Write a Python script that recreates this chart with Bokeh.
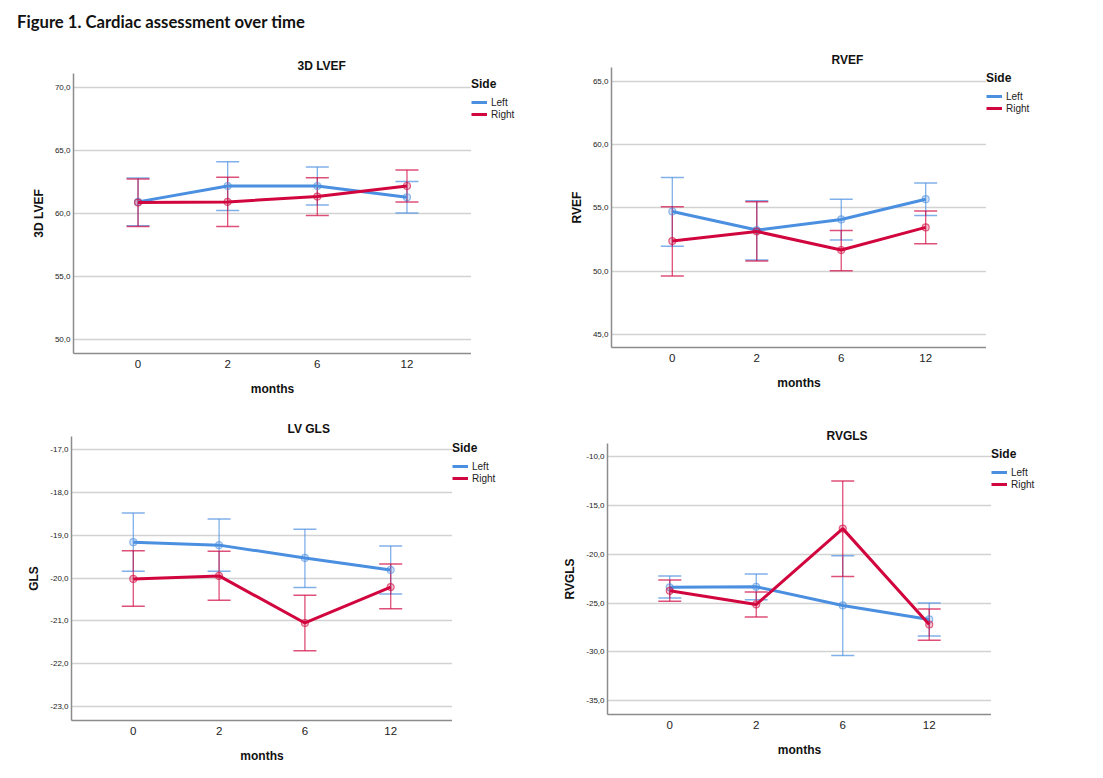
from bokeh.plotting import figure
from bokeh.models import (ColumnDataSource, Whisker, TeeHead, Legend, LegendItem, FactorRange,
                          Range1d, FixedTicker, CustomJSTickFormatter, Div)
from bokeh.layouts import column, row
from bokeh.embed import file_html
from bokeh.resources import INLINE

# ---------------- data ----------------
months = ["0", "2", "6", "12"]
sides = ["Left", "Right"]

# 3D LVEF
lvef_left_mean = [60.92, 62.18, 62.18, 61.29]
lvef_left_lo = [59.03, 60.24, 60.68, 60.03]
lvef_left_hi = [62.82, 64.10, 63.68, 62.53]
lvef_right_mean = [60.87, 60.92, 61.34, 62.18]
lvef_right_lo = [58.97, 58.97, 59.84, 60.92]
lvef_right_hi = [62.74, 62.87, 62.84, 63.45]

# RVEF
rvef_left_mean = [54.71, 53.24, 54.08, 55.68]
rvef_left_lo = [51.95, 50.87, 52.45, 54.39]
rvef_left_hi = [57.39, 55.55, 55.68, 56.97]
rvef_right_mean = [52.37, 53.13, 51.66, 53.45]
rvef_right_lo = [49.60, 50.79, 50.03, 52.16]
rvef_right_hi = [55.08, 55.47, 53.21, 54.74]

# LV GLS
gls_left_mean = [-19.16, -19.23, -19.53, -19.81]
gls_left_lo = [-19.84, -19.84, -20.22, -20.37]
gls_left_hi = [-18.48, -18.62, -18.86, -19.25]
gls_right_mean = [-20.02, -19.95, -21.05, -20.21]
gls_right_lo = [-20.66, -20.52, -21.70, -20.72]
gls_right_hi = [-19.36, -19.37, -20.40, -19.67]

# RVGLS
rvgls_left_mean = [-23.39, -23.33, -25.24, -26.67]
rvgls_left_lo = [-24.49, -24.66, -30.36, -28.38]
rvgls_left_hi = [-22.23, -22.03, -20.15, -25.00]
rvgls_right_mean = [-23.74, -25.14, -17.38, -27.19]
rvgls_right_lo = [-24.80, -26.43, -22.27, -28.79]
rvgls_right_hi = [-22.64, -23.87, -12.50, -25.61]

# axis ticks
lvef_ticks = [50, 55, 60, 65, 70]
rvef_ticks = [45, 50, 55, 60, 65]
gls_ticks = [-23, -22, -21, -20, -19, -18, -17]
rvgls_ticks = [-35, -30, -25, -20, -15, -10]

fig_title = "Figure 1. Cardiac assessment over time"

# ---------------- style ----------------
BLUE = "#4A8FE0"
RED = "#D2063E"
FONT = "Liberation Sans"
COLORS = [BLUE, RED]


def panel(title, ylabel, ylim, yticks, left, right, geom):
    bl, fw, bt, fh, bb, toff = geom
    p = figure(x_range=FactorRange(factors=months, range_padding=0.11),
               y_range=Range1d(*ylim), frame_width=fw, frame_height=fh,
               min_border_left=bl, min_border_right=0, min_border_top=bt, min_border_bottom=bb,
               output_backend="svg", toolbar_location=None, title=title)
    p.title.align = "left"
    p.title.offset = toff
    p.title.text_font = FONT
    p.title.text_font_size = "12px"
    p.title.text_font_style = "bold"
    p.title.text_color = "#111111"
    p.title.standoff = 2
    p.outline_line_color = None
    p.background_fill_color = "white"
    p.border_fill_color = "white"

    p.yaxis.ticker = FixedTicker(ticks=yticks)
    p.yaxis.formatter = CustomJSTickFormatter(code="return tick.toFixed(1).replace('.', ',');")
    for ax in (p.xaxis[0], p.yaxis[0]):
        ax.major_tick_in = 0
        ax.major_tick_out = 0
        ax.minor_tick_in = 0
        ax.minor_tick_out = 0
        ax.axis_line_color = "#8C8C8C"
        ax.axis_line_width = 1.5
        ax.major_label_text_font = FONT
        ax.major_label_text_color = "#222222"
        ax.axis_label_text_font = FONT
        ax.axis_label_text_font_size = "12px"
        ax.axis_label_text_font_style = "bold"
        ax.axis_label_text_color = "#111111"
    p.yaxis.major_label_text_font_size = "8px"
    p.xaxis.major_label_text_font_size = "11.5px"
    p.yaxis.major_label_standoff = 3
    p.xaxis.major_label_standoff = 6
    p.yaxis.axis_label_standoff = 6
    p.xaxis.axis_label_standoff = 11
    p.yaxis.axis_label = ylabel
    p.xaxis.axis_label = "months"
    p.xgrid.grid_line_color = None
    p.ygrid.grid_line_color = "#D2D2D2"
    p.ygrid.grid_line_width = 1.5

    for (mean, lo, hi), color in zip((left, right), COLORS):
        src = ColumnDataSource(dict(x=months, y=mean, lo=lo, hi=hi))
        w = Whisker(base="x", upper="hi", lower="lo", source=src,
                    line_color=color, line_alpha=0.7, line_width=1.3,
                    upper_head=TeeHead(size=23, line_color=color, line_alpha=0.7, line_width=1.5),
                    lower_head=TeeHead(size=23, line_color=color, line_alpha=0.7, line_width=1.5))
        p.add_layout(w)
        p.line("x", "y", source=src, line_color=color, line_width=3)
        p.scatter("x", "y", source=src, marker="circle", size=7, line_color=color,
                  line_alpha=0.6, fill_color=color, fill_alpha=0.25, line_width=1.2)
    return column(p, spacing=0)


def legend_box(width, height, top):
    lf = figure(width=width, height=height, title=None, min_border_left=0, min_border_right=0,
                min_border_top=top, min_border_bottom=0, x_axis_location=None,
                y_axis_location=None, x_range=Range1d(0, 1), y_range=Range1d(0, 1),
                output_backend="svg", toolbar_location=None)
    lf.grid.visible = False
    lf.outline_line_color = None
    lf.border_fill_color = "white"
    # legend-only renderers (no visible data)
    rs = [lf.line(x=[float("nan")], y=[float("nan")], line_color=c, line_width=3) for c in COLORS]
    legend = Legend(items=[LegendItem(label=s, renderers=[r]) for s, r in zip(sides, rs)],
                    title="Side", location="top_left")
    legend.title_text_font = FONT
    legend.title_text_font_size = "12px"
    legend.title_text_font_style = "bold"
    legend.title_text_color = "#111111"
    legend.title_standoff = 5
    legend.label_text_font = FONT
    legend.label_text_font_size = "10px"
    legend.label_text_color = "#222222"
    legend.label_height = 12
    legend.glyph_height = 12
    legend.glyph_width = 16
    legend.label_standoff = 4
    legend.spacing = 0
    legend.padding = 2
    legend.margin = 0
    legend.border_line_color = None
    legend.background_fill_alpha = 0
    lf.add_layout(legend)
    return column(lf, spacing=0)


# geometry: (border_left, frame_w, border_top, frame_h, border_bottom, title_offset)
p1 = panel("3D LVEF", "3D LVEF", (48.9, 71.1), lvef_ticks,
           (lvef_left_mean, lvef_left_lo, lvef_left_hi),
           (lvef_right_mean, lvef_right_lo, lvef_right_hi),
           (73, 398, 41, 280, 50, 224))
l1 = legend_box(72, 360, 45)
p2 = panel("RVEF", "RVEF", (43.95, 66.1), rvef_ticks,
           (rvef_left_mean, rvef_left_lo, rvef_left_hi),
           (rvef_right_mean, rvef_right_lo, rvef_right_hi),
           (68, 375, 35, 280, 56, 220))
l2 = legend_box(109, 360, 39)
p3 = panel("LV GLS", "GLS", (-23.33, -16.69), gls_ticks,
           (gls_left_mean, gls_left_lo, gls_left_hi),
           (gls_right_mean, gls_right_lo, gls_right_hi),
           (71, 381, 33, 284, 54, 216))
l3 = legend_box(85, 360, 38)
p4 = panel("RVGLS", "RVGLS", (-36.4, -8.67), rvgls_ticks,
           (rvgls_left_mean, rvgls_left_lo, rvgls_left_hi),
           (rvgls_right_mean, rvgls_right_lo, rvgls_right_hi),
           (70, 384, 40, 271, 60, 219))
l4 = legend_box(104, 360, 44)

head = Div(text=f'<div style="margin: 12px 0 0 17px; font-family: Lato; font-weight: bold; '
                f'font-size: 16.7px; line-height: 20px; color: #111111; white-space: nowrap;">'
                f'{fig_title}</div>',
           width=1095, height=32, margin=0)

layout = column(head, row(p1, l1, p2, l2, spacing=0), row(p3, l3, p4, l4, spacing=0), spacing=0)

open("out.html", "w").write(file_html(layout, INLINE))
